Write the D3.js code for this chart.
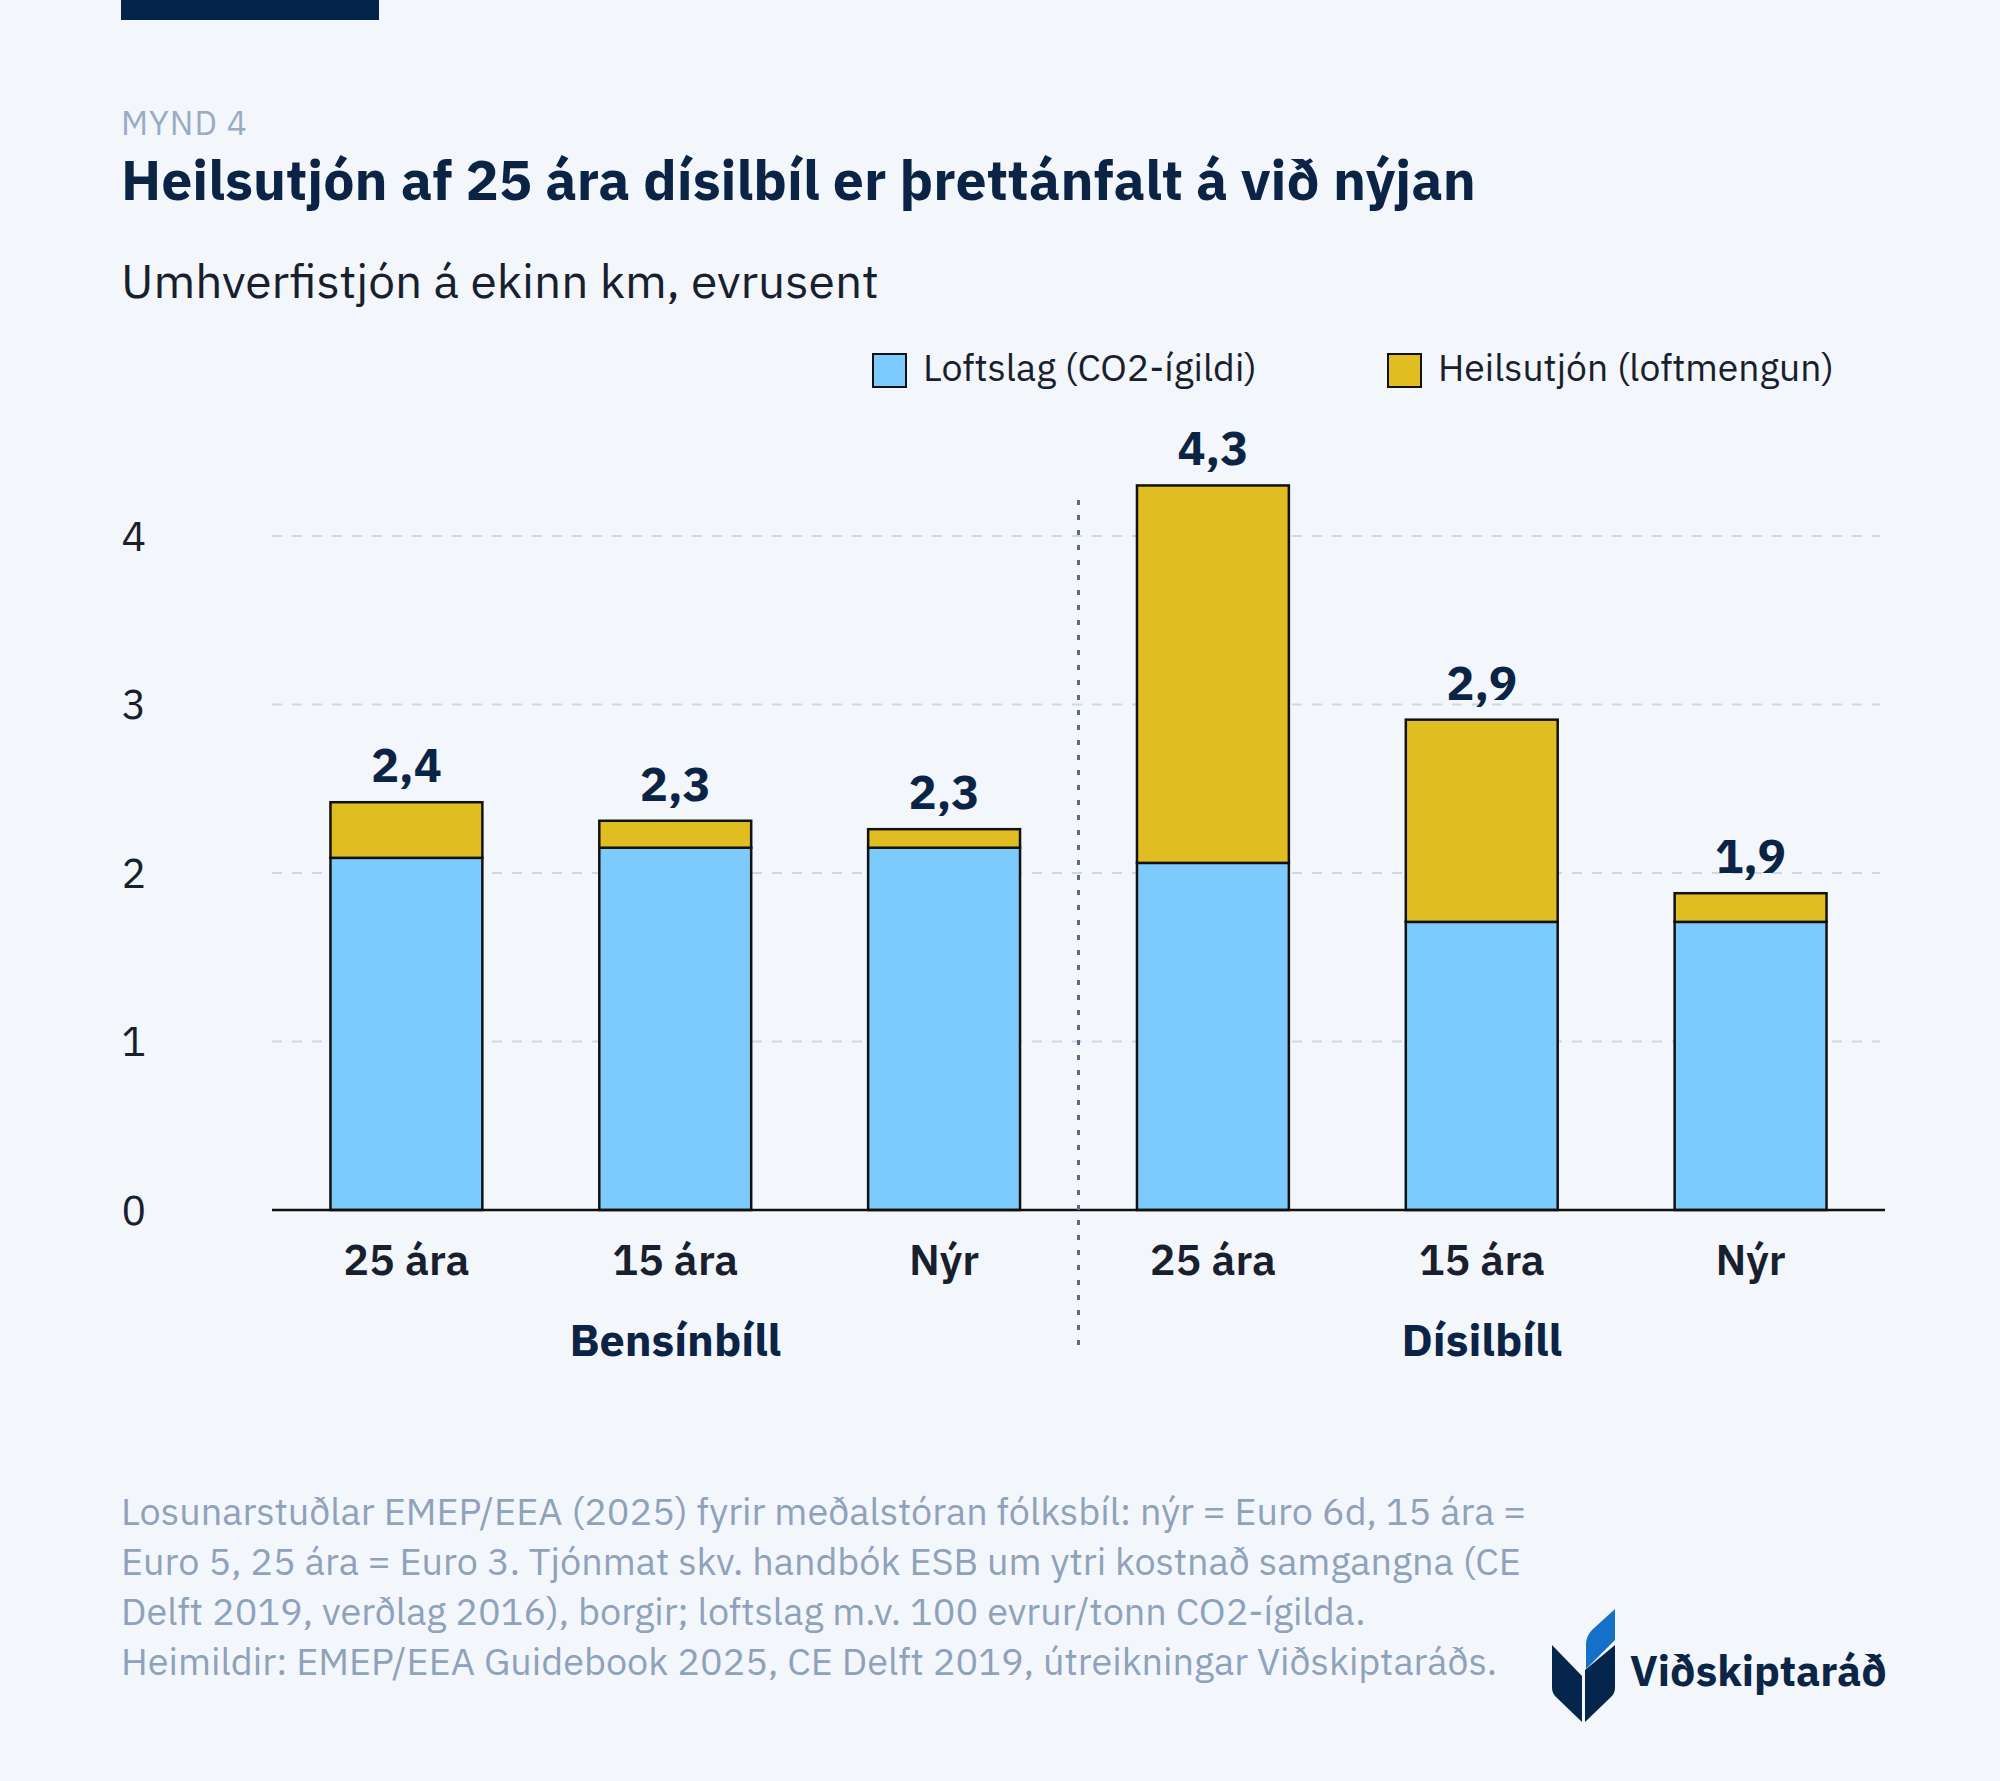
<!DOCTYPE html>
<html>
<head>
<meta charset="utf-8">
<script src="https://cdn.jsdelivr.net/npm/d3@7"></script>
<style>
  html, body { margin: 0; padding: 0; background: #f3f6fb; }
  svg { display: block; }
  text { font-family: "IBM Plex Sans", "Roboto", "Noto Sans", sans-serif; }
</style>
</head>
<body>
<svg id="chart" width="2000" height="1781"></svg>
<script>
// ---------- data ----------
const categories = ["25 ára", "15 ára", "Nýr", "25 ára", "15 ára", "Nýr"];
const groups = ["Bensínbíll", "Dísilbíll"];
const groupOf = [0, 0, 0, 1, 1, 1];
const seriesNames = ["Loftslag (CO2-ígildi)", "Heilsutjón (loftmengun)"];
const loftslag = [2.09, 2.15, 2.15, 2.06, 1.71, 1.71];
const heilsutjon = [0.33, 0.16, 0.11, 2.24, 1.20, 0.17];
const yTicks = [0, 1, 2, 3, 4];
const footerLines = [
  "Losunarstuðlar EMEP/EEA (2025) fyrir meðalstóran fólksbíl: nýr = Euro 6d, 15 ára =",
  "Euro 5, 25 ára = Euro 3. Tjónmat skv. handbók ESB um ytri kostnað samgangna (CE",
  "Delft 2019, verðlag 2016), borgir; loftslag m.v. 100 evrur/tonn CO2-ígilda.",
  "Heimildir: EMEP/EEA Guidebook 2025, CE Delft 2019, útreikningar Viðskiptaráðs."
];

// ---------- setup ----------
const svg = d3.select("#chart");
const W = 2000, H = 1781;
const colors = ["#7ccbfc", "#e0bd20"];
const navy = "#0b2446";
const ink = "#18202e";
const muted = "#8fa2bb";

svg.append("rect").attr("width", W).attr("height", H).attr("fill", "#f3f6fb");

// helper: scale font-size so the text fills a target width
function fit(sel, target) {
  const node = sel.node();
  const fs = parseFloat(sel.attr("font-size"));
  const w = node.getComputedTextLength();
  if (w > 0) sel.attr("font-size", (fs * target / w).toFixed(2));
  return sel;
}

// top bar
svg.append("rect").attr("x", 121).attr("y", 0).attr("width", 258).attr("height", 20).attr("fill", "#04244a");

// header
fit(svg.append("text").attr("x", 121).attr("y", 135).attr("font-size", 32)
  .attr("fill", "#9aabc2").attr("letter-spacing", 1).text("MYND 4"), 127);
fit(svg.append("text").attr("x", 121).attr("y", 200).attr("font-size", 54)
  .attr("font-weight", 700).attr("fill", navy)
  .text("Heilsutjón af 25 ára dísilbíl er þrettánfalt á við nýjan"), 1355);
fit(svg.append("text").attr("x", 121).attr("y", 298).attr("font-size", 42)
  .attr("fill", ink).text("Umhverfistjón á ekinn km, evrusent"), 758);

// legend
const legendX = [873, 1388];
const legendW = [334, 396];
seriesNames.forEach((name, i) => {
  svg.append("rect").attr("x", legendX[i]).attr("y", 354).attr("width", 33).attr("height", 33)
    .attr("fill", colors[i]).attr("stroke", "#111").attr("stroke-width", 2);
  fit(svg.append("text").attr("x", legendX[i] + 50).attr("y", 381).attr("font-size", 34)
    .attr("fill", ink).text(name), legendW[i]);
});

// scales
const x0 = 272, x1 = 1885, yZero = 1210, unit = 168.5;
const x = d3.scaleBand().domain(d3.range(categories.length)).range([x0, x1])
  .paddingInner(0.435).paddingOuter(0.2175);
const y = d3.scaleLinear().domain([0, 4.5]).range([yZero, yZero - unit * 4.5]);

// gridlines
svg.append("g").selectAll("line").data(yTicks.filter(d => d > 0)).join("line")
  .attr("x1", x0).attr("x2", 1880)
  .attr("y1", d => y(d)).attr("y2", d => y(d))
  .attr("stroke", "#cfd7e3").attr("stroke-width", 2).attr("stroke-dasharray", "10,10");

// y-axis labels
const yAxis = d3.axisLeft(y).tickValues(yTicks).tickSize(0).tickPadding(0).tickFormat(d3.format("d"));
const gy = svg.append("g").attr("transform", "translate(146,0)").call(yAxis);
gy.select(".domain").remove();
gy.selectAll("text").attr("font-size", 41).attr("fill", ink)
  .attr("font-family", '"IBM Plex Sans", "Roboto", sans-serif').attr("dy", "0.35em");

// stacked data
const stackData = categories.map((c, i) => ({ i, loftslag: loftslag[i], heilsutjon: heilsutjon[i] }));
const stack = d3.stack().keys(["loftslag", "heilsutjon"]);
const layers = stack(stackData);

svg.append("g").selectAll("g").data(layers).join("g")
  .attr("fill", (d, k) => colors[k])
  .selectAll("rect").data(d => d).join("rect")
  .attr("x", d => x(d.data.i))
  .attr("width", x.bandwidth())
  .attr("y", d => y(d[1]))
  .attr("height", d => y(d[0]) - y(d[1]))
  .attr("stroke", "#111").attr("stroke-width", 2.5);

// value labels
const is = d3.formatLocale({ decimal: ",", thousands: ".", grouping: [3], currency: ["", " kr."] });
const fmt = is.format(".1f");
svg.append("g").selectAll("text").data(stackData).join("text")
  .attr("x", d => x(d.i) + x.bandwidth() / 2)
  .attr("y", d => y(d.loftslag + d.heilsutjon) - 20)
  .attr("text-anchor", "middle").attr("font-size", 47).attr("font-weight", 700)
  .attr("fill", navy)
  .text(d => fmt(d.loftslag + d.heilsutjon));

// x axis line
svg.append("line").attr("x1", x0).attr("x2", x1).attr("y1", yZero).attr("y2", yZero)
  .attr("stroke", "#111").attr("stroke-width", 2.5);

// x labels
svg.append("g").selectAll("text").data(categories).join("text")
  .attr("x", (d, i) => x(i) + x.bandwidth() / 2)
  .attr("y", 1275).attr("text-anchor", "middle")
  .attr("font-size", 43).attr("font-weight", 600).attr("fill", ink)
  .text(d => d);

// group labels
groups.forEach((g, gi) => {
  const idx = d3.range(categories.length).filter(i => groupOf[i] === gi);
  const cx = d3.mean(idx, i => x(i) + x.bandwidth() / 2);
  svg.append("text").attr("x", cx).attr("y", 1356).attr("text-anchor", "middle")
    .attr("font-size", 45).attr("font-weight", 700).attr("fill", navy).text(g);
});

// divider between groups
const divX = (x(2) + x.bandwidth() + x(3)) / 2;
svg.append("line").attr("x1", divX).attr("x2", divX).attr("y1", 500).attr("y2", 1354)
  .attr("stroke", "#5d6b85").attr("stroke-width", 3).attr("stroke-dasharray", "5,10");

// footer
let footerSize = 36;
footerLines.forEach((t, i) => {
  const s = svg.append("text").attr("x", 121).attr("y", 1525 + i * 50).attr("font-size", footerSize)
    .attr("fill", muted).text(t);
  if (i === 0) { fit(s, 1405); footerSize = s.attr("font-size"); }
});

// logo
const logo = svg.append("g");
logo.append("path").attr("fill", "#05264c")
  .attr("d", "M1552,1645 L1582,1676 L1582,1722 L1556,1697 Q1552,1693 1552,1688 Z");
logo.append("path").attr("fill", "#05264c")
  .attr("d", "M1615,1645 L1585,1670 L1585,1722 L1611,1697 Q1615,1693 1615,1688 Z");
logo.append("path").attr("fill", "#1470c8")
  .attr("d", "M1586,1669 L1586,1645 Q1586,1636 1592,1630 L1615,1609 L1615,1640 Z");
fit(logo.append("text").attr("x", 1630).attr("y", 1686).attr("font-size", 44).attr("font-weight", 700)
  .attr("font-family", '"DejaVu Sans Condensed", "Roboto Condensed", "Roboto", sans-serif')
  .attr("fill", "#0a2545").text("Viðskiptaráð"), 257);
</script>
</body>
</html>
